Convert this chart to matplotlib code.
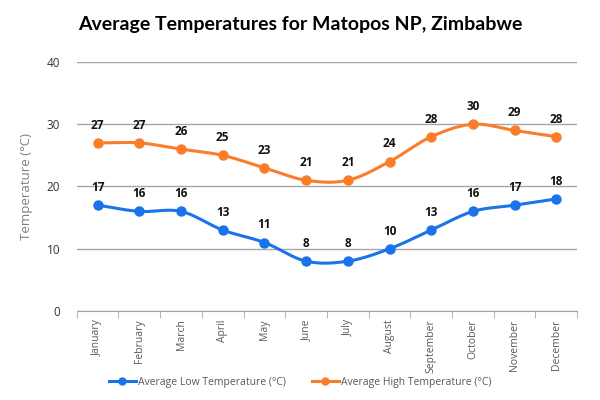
import numpy as np
import matplotlib.pyplot as plt
from matplotlib.lines import Line2D

plt.rcParams.update({
    "font.family": ["Open Sans", "DejaVu Sans"],
    "font.size": 9,
})

# Data
months = ["January", "February", "March", "April", "May", "June",
          "July", "August", "September", "October", "November", "December"]
high_temp = [27, 27, 26, 25, 23, 21, 21, 24, 28, 30, 29, 28]
low_temp = [17, 16, 16, 13, 11, 8, 8, 10, 13, 16, 17, 18]

blue = "#1a73e8"
orange = "#fb7d2a"


def smooth(x, y, n=20):
    # Catmull-Rom style smoothing between the data points (drawing only)
    x = np.asarray(x, float)
    y = np.asarray(y, float)
    px = np.concatenate([[2 * x[0] - x[1]], x, [2 * x[-1] - x[-2]]])
    py = np.concatenate([[2 * y[0] - y[1]], y, [2 * y[-1] - y[-2]]])
    xs, ys = [], []
    t = np.linspace(0, 1, n)
    for i in range(1, len(px) - 2):
        for p, out in ((px, xs), (py, ys)):
            p0, p1, p2, p3 = p[i - 1], p[i], p[i + 1], p[i + 2]
            out.extend(0.5 * ((2 * p1) + (-p0 + p2) * t
                              + (2 * p0 - 5 * p1 + 4 * p2 - p3) * t ** 2
                              + (-p0 + 3 * p1 - 3 * p2 + p3) * t ** 3))
    return xs, ys


fig = plt.figure(figsize=(6, 4), dpi=100)
ax = fig.add_axes([0.128, 0.2225, 0.834, 0.6225])

x = np.arange(len(months))
for vals, col in ((low_temp, blue), (high_temp, orange)):
    sx, sy = smooth(x, vals)
    ax.plot(sx, sy, color=col, linewidth=2.2, zorder=3)
    ax.plot(x, vals, "o", color=col, markersize=6.5, zorder=4)
    for xi, v in zip(x, vals):
        ax.annotate(str(v), (xi, v), xytext=(0, 8), textcoords="offset points",
                    ha="center", va="bottom", fontsize=8.5, fontweight="bold",
                    color="#111111", zorder=5)

ax.set_xlim(-0.5, len(months) - 0.5)
ax.set_ylim(0, 40)
ax.set_yticks([0, 10, 20, 30, 40])
ax.grid(axis="y", color="#a6a6a6", linewidth=1)
ax.set_axisbelow(True)
for s in ("top", "right", "left"):
    ax.spines[s].set_visible(False)
ax.spines["bottom"].set_color("#a6a6a6")

ax.set_xticks(x)
ax.set_xticklabels(months, rotation=90, color="#595959", fontsize=7.5)
ax.tick_params(axis="x", length=0, pad=6)
ax.set_xticks(np.arange(-0.5, len(months)), minor=True)
ax.tick_params(axis="x", which="minor", length=5, color="#a6a6a6")
ax.tick_params(axis="y", length=0, colors="#333333", labelsize=8.5, pad=12)

ax.set_ylabel("Temperature (°C)", color="#7f7f7f", fontsize=9.5, labelpad=10)
fig.suptitle("Average Temperatures for Matopos NP, Zimbabwe",
             x=0.5, y=0.96, fontsize=14, fontweight="bold", family=["Lato", "DejaVu Sans"])

handles = [Line2D([0], [0], color=blue, lw=2.2, marker="o", markersize=5),
           Line2D([0], [0], color=orange, lw=2.2, marker="o", markersize=5)]
fig.legend(handles, ["Average Low Temperature (°C)", "Average High Temperature (°C)"],
           loc="center", bbox_to_anchor=(0.5, 0.045), ncol=2, frameon=False,
           fontsize=7.5, labelcolor="#595959", handlelength=2.6, columnspacing=2.5,
           handletextpad=0.2)

fig.savefig("out.png", dpi=100)
